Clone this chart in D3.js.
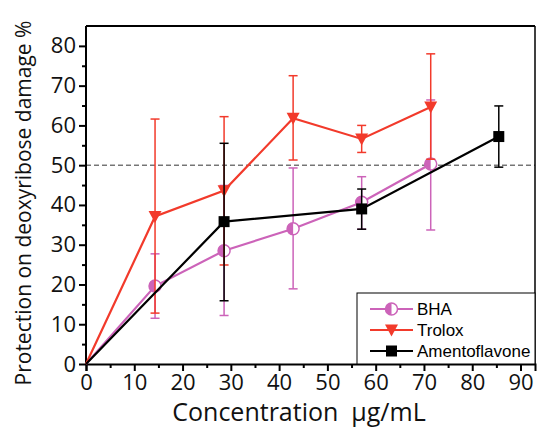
<!DOCTYPE html>
<html>
<head>
<meta charset="utf-8">
<script src="https://cdn.jsdelivr.net/npm/d3@7"></script>
<style>
  body { margin: 0; background: #fff; }
  svg { display: block; }
</style>
</head>
<body>
<div id="chart"></div>
<script>
// concentrations (µg/mL) and % protection
const bhaX = [0, 14.3, 28.6, 42.9, 57.1, 71.4];
const bhaY = [0, 19.6, 28.5, 34.0, 40.7, 50.3];
const bhaLo = [0, 11.5, 12.2, 18.9, 33.9, 33.7];
const bhaHi = [0, 27.7, 44.9, 49.3, 47.1, 66.4];

const troloxX = [0, 14.3, 28.6, 42.9, 57.1, 71.4];
const troloxY = [0, 37.1, 43.6, 61.8, 56.6, 64.6];
const troloxLo = [0, 12.8, 24.9, 51.3, 53.2, 51.5];
const troloxHi = [0, 61.6, 62.2, 72.5, 60.0, 78.0];

const amentoX = [0, 28.6, 57.1, 85.5];
const amentoY = [0, 35.8, 39.0, 57.2];
const amentoLo = [0, 15.9, 33.9, 49.5];
const amentoHi = [0, 55.5, 44.0, 64.9];

const xTicks = [0, 10, 20, 30, 40, 50, 60, 70, 80, 90];
const yTicks = [0, 10, 20, 30, 40, 50, 60, 70, 80];

const width = 537, height = 429;
const plot = { left: 86, right: 535, top: 26, bottom: 364 };

const svg = d3.select('#chart').append('svg')
  .attr('width', width)
  .attr('height', height);

const x = d3.scaleLinear().domain([0, 93]).range([plot.left, plot.right]);
const y = d3.scaleLinear().domain([0, 85]).range([plot.bottom, plot.top]);

const tickFont = '"Open Sans", sans-serif';

// dashed 50% guide
svg.append('line')
  .attr('x1', x(0)).attr('x2', plot.right)
  .attr('y1', y(50)).attr('y2', y(50))
  .style('stroke', '#333')
  .style('stroke-width', 1)
  .style('stroke-dasharray', '5,3');

// frame top / right
svg.append('line')
  .attr('x1', plot.left).attr('x2', plot.right)
  .attr('y1', plot.top).attr('y2', plot.top)
  .style('stroke', '#000').style('stroke-width', 2);
svg.append('line')
  .attr('x1', plot.right).attr('x2', plot.right)
  .attr('y1', plot.top).attr('y2', plot.bottom)
  .style('stroke', '#000').style('stroke-width', 1.5);

// axes
const xAxis = svg.append('g')
  .attr('transform', `translate(0,${plot.bottom})`)
  .call(d3.axisBottom(x).tickValues(xTicks).tickSize(7).tickPadding(3).tickFormat(d3.format('d')));
const xMinor = svg.append('g')
  .attr('transform', `translate(0,${plot.bottom})`)
  .call(d3.axisBottom(x).tickValues(d3.range(5, 95, 10)).tickSize(4).tickFormat(''));

const yAxis = svg.append('g')
  .attr('transform', `translate(${plot.left},0)`)
  .call(d3.axisLeft(y).tickValues(yTicks).tickSize(7).tickPadding(3).tickFormat(d3.format('d')));
const yMinor = svg.append('g')
  .attr('transform', `translate(${plot.left},0)`)
  .call(d3.axisLeft(y).tickValues(d3.range(5, 85, 10)).tickSize(4).tickFormat(''));

[xAxis, xMinor, yAxis, yMinor].forEach(g => {
  g.select('.domain').style('stroke', '#000').style('stroke-width', 2);
  g.selectAll('.tick line').style('stroke', '#000').style('stroke-width', 2);
  g.selectAll('text')
    .style('font-family', tickFont)
    .style('font-size', '22px')
    .style('fill', '#111');
});
xMinor.select('.domain').remove();
yMinor.select('.domain').remove();
yAxis.select('.domain').attr('d', `M0,${plot.bottom}V${plot.top}`);

// axis titles
svg.append('text')
  .attr('x', 299).attr('y', 421)
  .attr('text-anchor', 'middle')
  .style('white-space', 'pre')
  .style('font-family', tickFont)
  .style('font-size', '25px')
  .style('fill', '#111')
  .text('Concentration  μg/mL');

svg.append('text')
  .attr('transform', 'translate(31,203) rotate(-90)')
  .attr('text-anchor', 'middle')
  .style('font-family', tickFont)
  .style('font-size', '21px')
  .style('fill', '#111')
  .text('Protection on deoxyribose damage %');

const series = [
  { name: 'BHA', color: '#cc63b9', xs: bhaX, ys: bhaY, lo: bhaLo, hi: bhaHi, marker: 'half' },
  { name: 'Trolox', color: '#f23a2b', xs: troloxX, ys: troloxY, lo: troloxLo, hi: troloxHi, marker: 'tri' },
  { name: 'Amentoflavone', color: '#000', xs: amentoX, ys: amentoY, lo: amentoLo, hi: amentoHi, marker: 'square' }
];

const line = d3.line().x(d => x(d.x)).y(d => y(d.y));

function drawMarker(g, s, px, py) {
  if (s.marker === 'half') {
    g.append('circle')
      .attr('cx', px).attr('cy', py).attr('r', 6)
      .style('fill', '#fff').style('stroke', s.color).style('stroke-width', 1.5);
    g.append('path')
      .attr('d', d3.arc()({ innerRadius: 0, outerRadius: 6, startAngle: Math.PI, endAngle: 2 * Math.PI }))
      .attr('transform', `translate(${px},${py})`)
      .style('fill', s.color);
  } else if (s.marker === 'tri') {
    g.append('path')
      .attr('d', `M${px - 6.5},${py - 5.5}L${px + 6.5},${py - 5.5}L${px},${py + 6.5}Z`)
      .style('fill', s.color);
  } else {
    g.append('rect')
      .attr('x', px - 5.5).attr('y', py - 5.5)
      .attr('width', 11).attr('height', 11)
      .style('fill', s.color);
  }
}

series.forEach(s => {
  const pts = s.xs.map((v, i) => ({ x: v, y: s.ys[i], lo: s.lo[i], hi: s.hi[i] }));
  const g = svg.append('g').attr('class', 'series');

  // error bars
  pts.filter(d => d.hi > d.lo).forEach(d => {
    const eb = g.append('g');
    eb.append('line')
      .attr('x1', x(d.x)).attr('x2', x(d.x))
      .attr('y1', y(d.lo)).attr('y2', y(d.hi));
    [d.lo, d.hi].forEach(v => {
      eb.append('line')
        .attr('x1', x(d.x) - 4.5).attr('x2', x(d.x) + 4.5)
        .attr('y1', y(v)).attr('y2', y(v));
    });
    eb.selectAll('line').style('stroke', s.color).style('stroke-width', 1.5);
  });

  g.append('path')
    .datum(pts)
    .attr('d', line)
    .style('fill', 'none')
    .style('stroke', s.color)
    .style('stroke-width', 2.2);

  pts.filter(d => d.x > 0).forEach(d => drawMarker(g, s, x(d.x), y(d.y)));
});

// legend
const lg = svg.append('g');
lg.append('rect')
  .attr('x', 357).attr('y', 293)
  .attr('width', 178).attr('height', 71)
  .style('fill', '#fff').style('stroke', '#000').style('stroke-width', 1);
series.forEach((s, i) => {
  const ly = 309 + i * 21;
  lg.append('line')
    .attr('x1', 370).attr('x2', 413)
    .attr('y1', ly).attr('y2', ly)
    .style('stroke', s.color).style('stroke-width', 2.2);
  drawMarker(lg, s, 391.5, ly);
  lg.append('text')
    .attr('x', 417).attr('y', ly + 6)
    .style('font-family', '"Liberation Sans", Arial, sans-serif')
    .style('font-size', '17px')
    .style('fill', '#000')
    .text(s.name);
});
</script>
</body>
</html>
